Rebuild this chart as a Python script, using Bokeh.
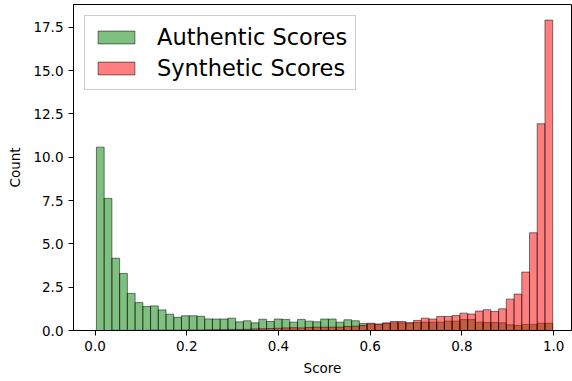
import numpy as np
from bokeh.plotting import figure
from bokeh.models import Range1d, FixedTicker, NumeralTickFormatter
from bokeh.embed import file_html
from bokeh.resources import INLINE

# ---- data (density histogram, 59 bins) ----
bin_start = 0.003
bin_end = 0.998
n_bins = 59

authentic = [10.58, 7.62, 4.17, 3.29, 2.14, 1.61, 1.39, 1.42, 1.19, 0.94,
             0.76, 0.85, 0.85, 0.82, 0.67, 0.66, 0.66, 0.71, 0.50, 0.56,
             0.44, 0.65, 0.52, 0.66, 0.64, 0.48, 0.64, 0.54, 0.50, 0.66,
             0.66, 0.48, 0.62, 0.56, 0.40, 0.38, 0.35, 0.40, 0.44, 0.44,
             0.42, 0.46, 0.48, 0.48, 0.48, 0.54, 0.54, 0.63, 0.63, 0.48,
             0.46, 0.46, 0.44, 0.33, 0.29, 0.35, 0.35, 0.42, 0.42]

synthetic = [0.00, 0.00, 0.01, 0.01, 0.01, 0.01, 0.01, 0.02, 0.02, 0.02,
             0.02, 0.03, 0.03, 0.03, 0.04, 0.05, 0.05, 0.06, 0.06, 0.07,
             0.09, 0.10, 0.11, 0.13, 0.15, 0.16, 0.15, 0.17, 0.19, 0.19,
             0.19, 0.19, 0.23, 0.25, 0.29, 0.42, 0.38, 0.44, 0.52, 0.52,
             0.45, 0.58, 0.71, 0.66, 0.81, 0.81, 0.86, 1.00, 0.95, 1.12,
             1.20, 1.10, 1.25, 1.81, 2.10, 3.37, 5.64, 11.93, 17.91]

x_ticks = [0.0, 0.2, 0.4, 0.6, 0.8, 1.0]
y_ticks = [0.0, 2.5, 5.0, 7.5, 10.0, 12.5, 15.0, 17.5]

series_labels = ["Authentic Scores", "Synthetic Scores"]
x_label = "Score"
y_label = "Count"

# ---- figure ----
edges = np.linspace(bin_start, bin_end, n_bins + 1)
FONT = "DejaVu Sans"

p = figure(width=572, height=381, output_backend="svg", toolbar_location=None,
           x_range=Range1d(-0.047, 1.039), y_range=Range1d(0, 18.81),
           min_border_left=73, min_border_right=1, min_border_top=4,
           min_border_bottom=51)

p.quad(left=edges[:-1], right=edges[1:], bottom=0, top=authentic,
       fill_color="green", fill_alpha=0.5, line_color="black", line_alpha=0.5,
       line_width=1, legend_label=series_labels[0])
p.quad(left=edges[:-1], right=edges[1:], bottom=0, top=synthetic,
       fill_color="red", fill_alpha=0.5, line_color="black", line_alpha=0.5,
       line_width=1, legend_label=series_labels[1])

p.xgrid.visible = False
p.ygrid.visible = False
p.outline_line_color = "black"
p.outline_line_alpha = 1
p.outline_line_width = 1
p.background_fill_color = "white"
p.border_fill_color = "white"

for ax in (p.xaxis[0], p.yaxis[0]):
    ax.formatter = NumeralTickFormatter(format="0.0")
    ax.major_tick_out = 5
    ax.major_tick_in = 0
    ax.minor_tick_out = 0
    ax.minor_tick_in = 0
    ax.major_tick_line_color = "black"
    ax.axis_line_color = "black"
    ax.major_label_text_font = FONT
    ax.major_label_text_font_size = "13.5px"
    ax.major_label_text_color = "black"
    ax.axis_label_text_font = FONT
    ax.axis_label_text_font_size = "13.5px"
    ax.axis_label_text_font_style = "normal"
    ax.axis_label_text_color = "black"
    ax.major_label_standoff = 5

p.xaxis[0].ticker = FixedTicker(ticks=x_ticks)
p.yaxis[0].ticker = FixedTicker(ticks=y_ticks)
p.xaxis[0].axis_label = x_label
p.yaxis[0].axis_label = y_label
p.xaxis[0].axis_label_standoff = 6
p.yaxis[0].axis_label_standoff = 7

lg = p.legend[0]
lg.location = "top_left"
lg.margin = 11
lg.padding = 8
lg.spacing = 5
lg.glyph_width = 46
lg.glyph_height = 16
lg.label_height = 26
lg.label_standoff = 18
lg.label_text_font = FONT
lg.label_text_font_size = "22.5px"
lg.label_text_color = "black"
lg.border_line_color = "#cccccc"
lg.border_line_alpha = 1
lg.border_line_width = 1
lg.background_fill_color = "white"
lg.background_fill_alpha = 0.8

open("out.html", "w").write(file_html(p, INLINE))
